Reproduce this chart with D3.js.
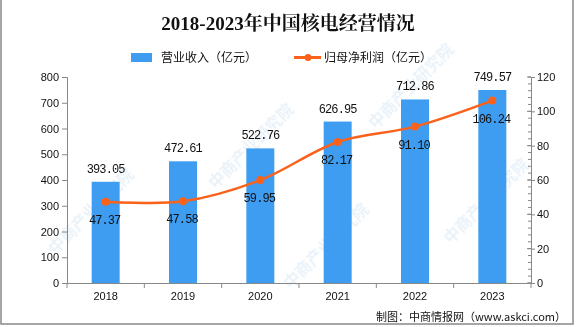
<!DOCTYPE html>
<html><head><meta charset="utf-8">
<script src="https://cdn.jsdelivr.net/npm/d3@7"></script>
<style>body{margin:0;background:#fff}svg{display:block}</style>
</head><body>
<svg id="c" width="576" height="327"></svg>
<script>
const years = ["2018","2019","2020","2021","2022","2023"];
const revenue = [393.05, 472.61, 522.76, 626.95, 712.86, 749.57];
const netProfit = [47.37, 47.58, 59.95, 82.17, 91.10, 106.24];
const leftTicks = [0,100,200,300,400,500,600,700,800];
const rightTicks = [0,20,40,60,80,100,120];
const title = "2018-2023年中国核电经营情况";
const legendNames = ["营业收入（亿元）","归母净利润（亿元）"];
const source = "制图：中商情报网（www.askci.com）";
const watermark = "中商产业研究院";

(function(){
const svg = d3.select("#c");
const W = 576, H = 327;
const pL = 67, pR = 531, pT = 77, pB = 283;
const blue = "#3e9df1", orange = "#fa621c";
const numFont = "'Liberation Mono','DejaVu Sans Mono',monospace";
const cjk = "'Noto Sans CJK SC','Noto Sans',sans-serif";

svg.append("rect").attr("width",W).attr("height",H).attr("fill","#fff");

// watermarks (faint, kept inside the picture)
const wm = svg.append("g").attr("fill","#b8d4ec").attr("opacity",0.3)
  .attr("font-family",cjk).attr("font-size",16).attr("font-weight","bold").attr("text-anchor","middle");
[[95,215],[255,150],[415,90],[330,250],[490,205]].forEach(([x,y])=>{
  wm.append("text").attr("transform",`translate(${x},${y}) rotate(-45)`).text(watermark);
});

const x = d3.scaleBand().domain(years).range([pL,pR]);
const yL = d3.scaleLinear().domain([0,800]).range([pB,pT]);
const yR = d3.scaleLinear().domain([0,120]).range([pB,pT]);

// title
svg.append("text").attr("x",288).attr("y",30).attr("text-anchor","middle")
  .attr("font-family","'Liberation Serif','Noto Serif CJK SC','Noto Sans CJK SC',serif")
  .attr("font-weight","bold").attr("font-size",19).attr("fill","#111").text(title);

// legend
const lg = svg.append("g").attr("font-family",cjk).attr("font-size",12).attr("fill","#111");
lg.append("rect").attr("x",131).attr("y",53).attr("width",21).attr("height",9).attr("fill",blue);
lg.append("text").attr("x",161).attr("y",62).text(legendNames[0]);
lg.append("line").attr("x1",294).attr("x2",321).attr("y1",57.5).attr("y2",57.5).attr("stroke",orange).attr("stroke-width",3);
lg.append("circle").attr("cx",308).attr("cy",57.5).attr("r",3.5).attr("fill",orange);
lg.append("text").attr("x",324).attr("y",62).text(legendNames[1]);

// bars
svg.append("g").selectAll("rect").data(revenue).join("rect")
  .attr("x",(d,i)=>x(years[i])+x.bandwidth()/2-14)
  .attr("width",28)
  .attr("y",d=>yL(d)).attr("height",d=>pB-yL(d))
  .attr("fill",blue);

// axes
const axisColor = "#888";
const gL = svg.append("g").attr("transform",`translate(${pL},0)`)
  .call(d3.axisLeft(yL).tickValues(leftTicks).tickSize(5).tickPadding(3));
const gR = svg.append("g").attr("transform",`translate(${pR},0)`)
  .call(d3.axisRight(yR).tickValues(rightTicks).tickSize(4).tickPadding(2));
svg.append("g").selectAll("line").data(d3.range(0,121,4)).join("line")
  .attr("x1",pR-3).attr("x2",pR).attr("y1",d=>yR(d)).attr("y2",d=>yR(d))
  .attr("stroke",axisColor);
svg.append("g").selectAll("line").data(rightTicks).join("line")
  .attr("x1",pR-4).attr("x2",pR).attr("y1",d=>yR(d)).attr("y2",d=>yR(d))
  .attr("stroke",axisColor);
const gX = svg.append("g").attr("transform",`translate(0,${pB})`)
  .call(d3.axisBottom(x).tickSize(0).tickPadding(9));
svg.append("g").selectAll("line").data(d3.range(years.length+1)).join("line")
  .attr("x1",i=>pL+i*x.step()).attr("x2",i=>pL+i*x.step())
  .attr("y1",pB).attr("y2",pB+5).attr("stroke",axisColor);

[gL,gR,gX].forEach(g=>{
  g.selectAll("path,line").attr("stroke",axisColor);
  g.selectAll("text").attr("font-family","'Liberation Sans',Arial,sans-serif").attr("font-size",11).attr("fill","#111");
});

// line
const pts = netProfit.map((v,i)=>[x(years[i])+x.bandwidth()/2, yR(v)]);
svg.append("path").attr("d",d3.line().curve(d3.curveCatmullRom.alpha(0.5))(pts))
  .attr("fill","none").attr("stroke",orange).attr("stroke-width",2.5);
svg.append("g").selectAll("circle").data(pts).join("circle")
  .attr("cx",d=>d[0]).attr("cy",d=>d[1]).attr("r",4).attr("fill",orange);

// labels
const lab = svg.append("g").attr("font-family",numFont).attr("font-size",12)
  .attr("fill","#111").attr("text-anchor","middle").attr("letter-spacing","-0.9");
revenue.forEach((v,i)=>{
  lab.append("text").attr("x",x(years[i])+x.bandwidth()/2).attr("y",yL(v)-9).text(v.toFixed(2));
});
netProfit.forEach((v,i)=>{
  lab.append("text").attr("x",x(years[i])+x.bandwidth()/2-1).attr("y",yR(v)+22).text(v.toFixed(2));
});

// source
svg.append("text").attr("x",566).attr("y",321).attr("text-anchor","end")
  .attr("font-family",cjk).attr("font-size",11).attr("fill","#111").text(source);

// frame
svg.append("rect").attr("x",1).attr("y",-2).attr("width",572).attr("height",326)
  .attr("fill","none").attr("stroke","#888").attr("stroke-width",1.5);
})();
</script>
</body></html>
